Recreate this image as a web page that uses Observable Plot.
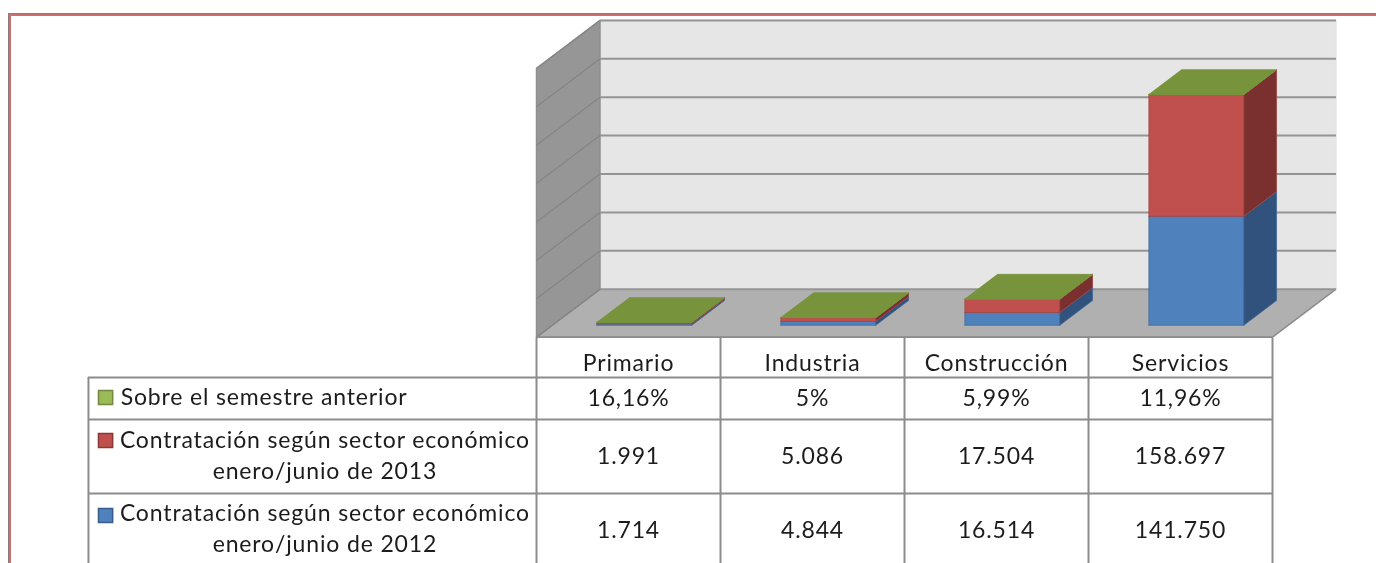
<!DOCTYPE html>
<html lang="es">
<head>
<meta charset="utf-8">
<script src="https://cdn.jsdelivr.net/npm/d3@7"></script>
<script src="https://cdn.jsdelivr.net/npm/@observablehq/plot@0.6"></script>
<style>
  html, body { margin: 0; padding: 0; background: #fff; overflow: hidden; width: 1376px; height: 563px; }
  #chart { position: relative; width: 1376px; height: 563px; overflow: hidden; }
  #chart svg { display: block; background: transparent; max-width: none; filter: blur(0.45px); }
  #frame { position: absolute; left: 8px; top: 13px; width: 1500px; height: 700px; box-sizing: border-box;
           border-top: 1px solid #8c7c7c; border-left: 1px solid #8c7c7c; }
  #frame2 { position: absolute; left: 9px; top: 14px; width: 1500px; height: 700px; box-sizing: border-box;
           border-top: 2px solid #c96f6c; border-left: 2px solid #c96f6c; }
</style>
</head>
<body>
<div id="chart"><div id="frame"></div><div id="frame2"></div></div>
<script>
// ---- data
const categories = ["Primario", "Industria", "Construcción", "Servicios"];
const sobreSemestre = [0.1616, 0.05, 0.0599, 0.1196];
const contratacion2013 = [1991, 5086, 17504, 158697];
const contratacion2012 = [1714, 4844, 16514, 141750];
const gridValues = [0, 50000, 100000, 150000, 200000, 250000, 300000, 350000];
const serieNames = [
  "Sobre el semestre anterior",
  "Contratación según sector económico\nenero/junio de 2013",
  "Contratación según sector económico\nenero/junio de 2012"
];

// ---- styles
const palette = {
  blue:  {front: "#4f81bd", side: "#30527c", stroke: "#41699b", key: "#4f81bd", keyStroke: "#385d8a"},
  red:   {front: "#c0504d", side: "#7a302e", stroke: "#a04543", key: "#c0504d", keyStroke: "#8c3836"},
  green: {front: "#77933c", side: "#77933c", stroke: "#77933c", top: "#77933c", key: "#9bbb59", keyStroke: "#71893f"}
};
const lineColor = "#8c8c8c";

// ---- oblique 3D projection, expressed in scale units
const depthX = 0.345;     // category units per unit of depth
const depthY = 62500;     // value units per unit of depth
const barFront = 0.25, barBack = 0.765, barHalf = 0.258;
const px = (x, z) => x + z * depthX;
const py = (v, z) => v + z * depthY;

const xScale = {type: "linear", domain: [0, 4], range: [536, 1272]};
const yMax = gridValues[gridValues.length - 1];

// faces are closed polylines
const faces = [];
let faceId = 0;
function addFace(corners, fill, stroke) {
  faceId++;
  for (const [x, v, z] of [...corners, corners[0]]) {
    faces.push({id: faceId, X: px(x, z), Y: py(v, z), fill, stroke});
  }
}

// floor, back wall and side wall
addFace([[0, 0, 0], [4, 0, 0], [4, 0, 1], [0, 0, 1]], "#b0b0b0", lineColor);
addFace([[0, 0, 1], [4, 0, 1], [4, yMax, 1], [0, yMax, 1]], "#e6e6e6", "#e6e6e6");
addFace([[0, 0, 0], [0, 0, 1], [0, yMax, 1], [0, yMax, 0]], "#969696", "#8f8f8f");
const shellFaces = faces.splice(0, faces.length);

// stacked boxes
categories.forEach((c, i) => {
  const x1 = i + 0.5 - barHalf, x2 = i + 0.5 + barHalf;
  const stack = [
    {v: contratacion2012[i], c: palette.blue},
    {v: contratacion2013[i], c: palette.red},
    {v: sobreSemestre[i], c: palette.green}
  ];
  let base = 0;
  for (const s of stack) {
    const top = base + s.v;
    addFace([[x1, base, barFront], [x2, base, barFront], [x2, top, barFront], [x1, top, barFront]], s.c.front, s.c.stroke);
    addFace([[x2, base, barFront], [x2, base, barBack], [x2, top, barBack], [x2, top, barFront]], s.c.side, s.c.stroke);
    base = top;
  }
  addFace([[x1, base, barFront], [x2, base, barFront], [x2, base, barBack], [x1, base, barBack]], palette.green.top, palette.green.stroke);
});

const chart3d = Plot.plot({
  width: 1376, height: 338,
  margin: 0,
  x: {...xScale, axis: null},
  y: {domain: [0, yMax], range: [336.7, 67.9], axis: null},
  color: {type: "identity"},
  marks: [
    Plot.line(shellFaces, {x: "X", y: "Y", z: "id", fill: "fill", stroke: "stroke", strokeWidth: 1.5}),
    Plot.link(gridValues, {x1: px(0, 1), x2: px(4, 1), y1: v => py(v, 1), y2: v => py(v, 1), stroke: "#949494", strokeWidth: 2}),
    Plot.link(gridValues, {x1: px(0, 0), x2: px(0, 1), y1: v => py(v, 0), y2: v => py(v, 1), stroke: "#858585", strokeWidth: 1.2}),
    Plot.line(faces, {x: "X", y: "Y", z: "id", fill: "fill", stroke: "stroke", strokeWidth: 0.8}),
    Plot.ruleY([0], {x1: 0, x2: 4, stroke: lineColor, strokeWidth: 2})
  ]
});

// ---- data table, sharing the category scale
const esLocale = d3.formatLocale({decimal: ",", thousands: ".", grouping: [3], currency: ["", "€"]});
const fmtNum = esLocale.format(",d");
const fmtPct = esLocale.format(".2~%");

const legendLeft = -2.435;
const legendCenter = -1.15;
const legendTextLeft = -2.26;
const keyX = -2.342;
const colEdges = [0, 1, 2, 3, 4];
// row rules, in pixels below the chart
const rowEdges = {headerBottom: 39, first: 81, second: 155, end: 225};
const rowCenters = {header: 25, pct: 60, y2013: 118, y2012: 192};
const tableRows = [
  {row: rowCenters.pct, labels: sobreSemestre.map(fmtPct)},
  {row: rowCenters.y2013, labels: contratacion2013.map(fmtNum)},
  {row: rowCenters.y2012, labels: contratacion2012.map(fmtNum)}
];
const cells = [
  ...categories.map((label, i) => ({x: i + 0.5, y: rowCenters.header, label})),
  ...tableRows.flatMap(r => r.labels.map((label, i) => ({x: i + 0.5, y: r.row, label})))
];
const keys = [
  {y: 59, fill: palette.green.key, stroke: palette.green.keyStroke},
  {y: 102, fill: palette.red.key, stroke: palette.red.keyStroke},
  {y: 177, fill: palette.blue.key, stroke: palette.blue.keyStroke}
];
const textStyle = {fontFamily: "Lato, 'Open Sans', sans-serif", fontSize: 23, fill: "#1c1c1c"};

const table = Plot.plot({
  width: 1376, height: 225,
  margin: 0,
  x: {...xScale, axis: null},
  y: {domain: [0, rowEdges.end], range: [0, rowEdges.end], axis: null},
  style: {letterSpacing: "0.85px"},
  marks: [
    Plot.ruleX(colEdges, {y1: 0, y2: rowEdges.end, stroke: lineColor, strokeWidth: 2}),
    Plot.ruleX([legendLeft], {y1: rowEdges.headerBottom, y2: rowEdges.end, stroke: lineColor, strokeWidth: 2}),
    Plot.ruleY([rowEdges.headerBottom, rowEdges.first, rowEdges.second], {x1: legendLeft, x2: 4, stroke: lineColor, strokeWidth: 2}),
    Plot.text(cells, {x: "x", y: "y", text: "label", ...textStyle}),
    Plot.dot(keys, {x: keyX, y: "y", symbol: "square", r: 8, fill: "fill", stroke: "stroke", strokeWidth: 1.5}),
    Plot.text([serieNames[0]], {x: legendTextLeft, y: rowCenters.pct - 1, text: d => d, textAnchor: "start", ...textStyle}),
    Plot.text(serieNames.slice(1), {
      x: legendCenter,
      y: (d, i) => [rowCenters.y2013 - 3, rowCenters.y2012 - 4][i],
      text: d => d, lineHeight: 1.36, ...textStyle
    })
  ]
});

const host = document.getElementById("chart");
host.append(chart3d, table);
</script>
</body>
</html>
